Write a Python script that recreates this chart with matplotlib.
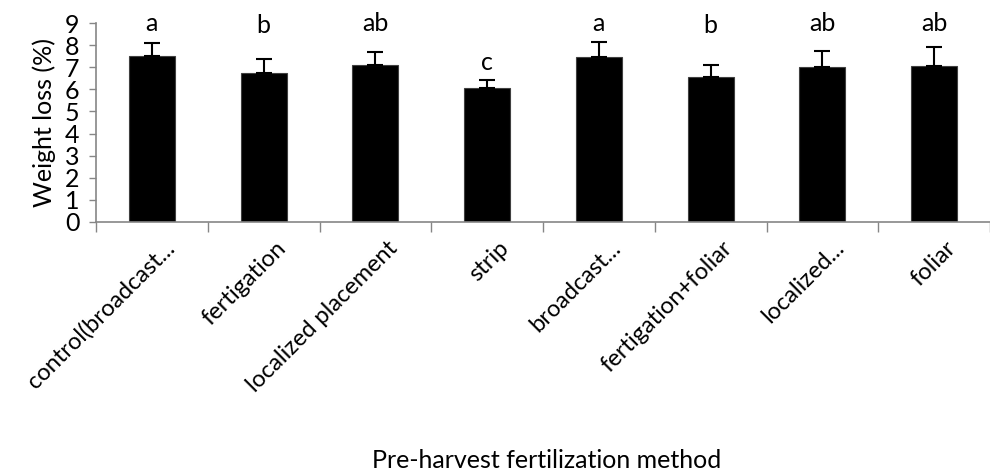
import numpy as np
import matplotlib
matplotlib.use('Agg')
import matplotlib.pyplot as plt
from matplotlib.ticker import FixedLocator, NullFormatter

plt.rcParams['font.family'] = ['Lato', 'DejaVu Sans']

# 数据
categories = ['control(broadcast...', 'fertigation', 'localized placement', 'strip',
              'broadcast...', 'fertigation+foliar', 'localized...', 'foliar']
weight_loss = [7.50, 6.73, 7.12, 6.05, 7.48, 6.56, 7.03, 7.06]
err_up = [0.58, 0.64, 0.57, 0.36, 0.66, 0.56, 0.71, 0.86]
letters = ['a', 'b', 'ab', 'c', 'a', 'b', 'ab', 'ab']
letter_y = [9.0, 8.9, 9.0, 7.2, 9.0, 8.87, 9.0, 9.0]
yticks = list(range(0, 10))

GRAY = '#868686'

fig = plt.figure(figsize=(9.9, 4.71), dpi=100)
ax = fig.add_axes([0.097, 0.529, 0.903, 0.422])

x = np.arange(len(categories))
ax.bar(x, weight_loss, width=0.41, color='black', edgecolor='#404040', linewidth=0.8, zorder=2)
ax.errorbar(x, weight_loss, yerr=[np.zeros(len(x)), err_up], fmt='none',
            ecolor='black', elinewidth=1.5, capsize=6, capthick=1.5, zorder=3)

for xi, t, ly in zip(x, letters, letter_y):
    ax.text(xi, ly, t, ha='center', va='center', fontsize=18, clip_on=False)

ax.set_xlim(-0.5, len(categories) - 0.5)
ax.set_ylim(0, 9)
ax.set_yticks(yticks)
ax.tick_params(axis='y', labelsize=18, length=5, color=GRAY, width=1, pad=7)

ax.set_xticks(x + 0.1)
ax.set_xticklabels(categories, rotation=45, ha='right', rotation_mode='anchor', fontsize=17)
ax.tick_params(axis='x', which='major', length=0, pad=11)
ax.xaxis.set_minor_locator(FixedLocator(np.arange(-0.5, len(categories), 1.0)))
ax.xaxis.set_minor_formatter(NullFormatter())
ax.tick_params(axis='x', which='minor', length=7, color=GRAY, width=1)

for s in ['top', 'right']:
    ax.spines[s].set_visible(False)
for s in ['left', 'bottom']:
    ax.spines[s].set_color(GRAY)
    ax.spines[s].set_linewidth(1.2)

ax.set_ylabel('Weight loss (%)', fontsize=18, labelpad=6)
fig.text(0.552, 0.023, 'Pre-harvest fertilization method', ha='center', va='center', fontsize=18)

fig.savefig('out.png', dpi=100, facecolor='white')
